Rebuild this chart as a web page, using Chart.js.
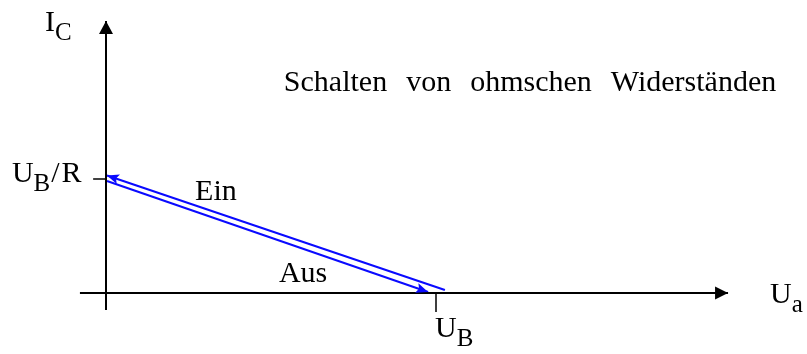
<!DOCTYPE html>
<html>
<head>
<meta charset="utf-8">
<script src="https://cdn.jsdelivr.net/npm/chart.js@4/dist/chart.umd.min.js"></script>
<style>
  html, body { margin: 0; padding: 0; background: #fff; }
  #wrap { width: 807px; height: 354px; }
</style>
</head>
<body>
<div id="wrap"><canvas id="chart" width="807" height="354"></canvas></div>
<script>
// values in units of U_B (x) and U_B/R (y)
const axisX   = [-0.079, 1.885]
const axisY   = [-0.149, 2.386]
const tickUB  = [1, 0, -0.167]      // x, y from, y to
const tickUBR = [1, -0.039, 0]      // y, x from, x to

// switching paths (two parallel tracks)
const einX = [1.027, 0.003]
const einY = [0.026, 1.031]
const ausX = [0.003, 0.976]
const ausY = [0.982, 0.009]

// text labels: anchor in data units, parts = [text, subscript?, gap]
const labels = [
  { x: -0.185, y: 2.298, parts: [["I"], ["C", true]] },
  { x: -0.285, y: 0.974, parts: [["U"], ["B", true], ["/", false, 1], ["R", false, 2]] },
  { x: 0.270,  y: 0.816, parts: [["Ein"]] },
  { x: 0.524,  y: 0.096, parts: [["Aus"]] },
  { x: 2.012,  y: -0.088, parts: [["U"], ["a", true]] },
  { x: 0.997,  y: -0.386, parts: [["U"], ["B", true]] }
]
const title = { x: 0.539, y: 1.772, words: ["Schalten", "von", "ohmschen", "Widerständen"] }

const pts = (xs, ys) => xs.map((x, i) => ({ x, y: ys[i] }))

const black = "#000000"
const blue  = "#0a0aff"
const serif = "'Liberation Serif', 'Times New Roman', serif"

const arrowPlugin = {
  id: "arrows",
  afterDatasetsDraw(chart) {
    const ctx = chart.ctx
    chart.data.datasets.forEach((ds, i) => {
      if (!ds.arrow) return
      const d = chart.getDatasetMeta(i).data
      const a = d[d.length - 2], b = d[d.length - 1]
      const ang = Math.atan2(b.y - a.y, b.x - a.x)
      const { len, half, notch } = ds.arrow
      ctx.save()
      ctx.translate(b.x, b.y)
      ctx.rotate(ang)
      ctx.beginPath()
      ctx.moveTo(0, 0)
      ctx.lineTo(-len, -half)
      ctx.lineTo(-len + notch, 0)
      ctx.lineTo(-len, half)
      ctx.closePath()
      ctx.fillStyle = ds.borderColor
      ctx.fill()
      ctx.restore()
    })
  }
}

const textPlugin = {
  id: "texts",
  afterDraw(chart) {
    const ctx = chart.ctx
    const xs = chart.scales.x, ys = chart.scales.y
    ctx.save()
    ctx.fillStyle = black
    ctx.textBaseline = "alphabetic"
    ctx.textAlign = "left"
    labels.forEach(l => {
      let px = xs.getPixelForValue(l.x)
      const py = ys.getPixelForValue(l.y)
      l.parts.forEach(([t, sub, gap]) => {
        px += gap || 0
        ctx.font = sub ? `25px ${serif}` : `30px ${serif}`
        ctx.fillText(t, px, sub ? py + 9 : py)
        px += ctx.measureText(t).width
      })
    })
    ctx.font = `30px ${serif}`
    let px = xs.getPixelForValue(title.x)
    const py = ys.getPixelForValue(title.y)
    title.words.forEach(w => {
      ctx.fillText(w, px, py)
      px += ctx.measureText(w).width + 19
    })
    ctx.restore()
  }
}

const line = (data, color, width, extra = {}) => ({
  data, showLine: true, borderColor: color, borderWidth: width,
  pointRadius: 0, fill: false, tension: 0, clip: false, ...extra
})

new Chart(document.getElementById("chart"), {
  type: "scatter",
  data: {
    datasets: [
      line([{ x: axisX[0], y: 0 }, { x: axisX[1], y: 0 }], black, 2,
        { arrow: { len: 13, half: 6.5, notch: 0 } }),
      line([{ x: 0, y: axisY[0] }, { x: 0, y: axisY[1] }], black, 2,
        { arrow: { len: 13, half: 7, notch: 0 } }),
      line([{ x: tickUB[0], y: tickUB[1] }, { x: tickUB[0], y: tickUB[2] }], black, 1.5),
      line([{ x: tickUBR[1], y: tickUBR[0] }, { x: tickUBR[2], y: tickUBR[0] }], black, 1.5),
      line(pts(einX, einY), blue, 2, { arrow: { len: 12, half: 5, notch: 2.5 } }),
      line(pts(ausX, ausY), blue, 2, { arrow: { len: 12, half: 5, notch: 2.5 } })
    ]
  },
  options: {
    responsive: false,
    animation: false,
    events: [],
    layout: { padding: { left: 73, right: 41, top: 8, bottom: 32.5 } },
    plugins: { legend: { display: false }, tooltip: { enabled: false } },
    scales: {
      x: { type: "linear", min: -0.1, max: 2.0, display: false },
      y: { type: "linear", min: -0.25, max: 2.5, display: false }
    }
  },
  plugins: [arrowPlugin, textPlugin]
})
</script>
</body>
</html>
